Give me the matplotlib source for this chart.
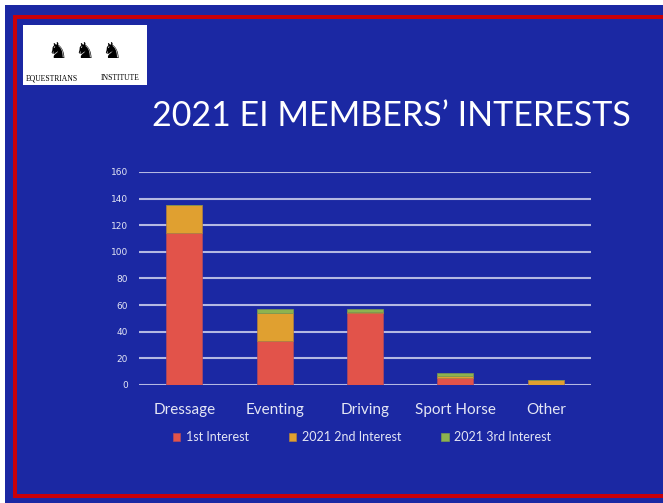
import matplotlib
matplotlib.use("Agg")
import matplotlib.pyplot as plt
from matplotlib.patches import Rectangle
import numpy as np

categories = ["Dressage", "Eventing", "Driving", "Sport Horse", "Other"]
first_interest = [114, 33, 54, 5, 0]
second_interest = [21, 21, 1, 2, 4]
third_interest = [0, 3, 2, 2, 0]
series_names = ["1st Interest", "2021 2nd Interest", "2021 3rd Interest"]
yticks = [0, 20, 40, 60, 80, 100, 120, 140, 160]

BG = "#1b28a3"
RED = "#e2534a"
ORANGE = "#e0a030"
GREEN = "#8db34f"
TXT = "#e4e6f5"
GRID = "#b4b8e2"
FRAME = "#c8000a"

W, H = 663, 503
fig = plt.figure(figsize=(W / 100, H / 100), dpi=100)
fig.patch.set_facecolor("white")

def fx(px):
    return px / W

def fy(py):
    return 1 - py / H

def rect(x0, y0, x1, y1, color, z):
    fig.patches.append(Rectangle((fx(x0), fy(y1)), (x1 - x0) / W, (y1 - y0) / H,
                                 transform=fig.transFigure, facecolor=color,
                                 edgecolor="none", zorder=z))

# blue slide background
rect(5, 5, 663, 503, BG, -10)
# red frame (open on the right)
rect(13, 15, 663, 19, FRAME, -9)
rect(13, 494, 663, 498, FRAME, -9)
rect(13, 15, 17, 498, FRAME, -9)

# logo box
rect(23, 25, 147, 85, "white", -8)
fig.text(fx(52), fy(78), "EQUESTRIANS", fontsize=5.5, family="Liberation Serif",
         color="black", ha="center", va="center", zorder=3)
fig.text(fx(120), fy(78), "INSTITUTE", fontsize=5.5, family="Liberation Serif",
         color="black", ha="center", va="center", zorder=3)
fig.text(fx(85), fy(52), "\u265E \u265E \u265E", fontsize=16, family="DejaVu Sans",
         color="black", ha="center", va="center", zorder=3)

# title
fig.text(fx(391), fy(116), "2021 EI MEMBERS\u2019 INTERESTS", fontsize=24.5,
         family="Lato", color="white", ha="center", va="center")

ax = fig.add_axes([fx(139), fy(385), (591 - 139) / W, (385 - 172) / H])
ax.set_zorder(5)
ax.set_facecolor("none")
x = np.arange(len(categories))
bw = 0.4
b1 = np.array(first_interest)
b2 = np.array(second_interest)
b3 = np.array(third_interest)
ax.bar(x, b1, bw, color=RED, label=series_names[0], zorder=3, edgecolor="#b04a60", linewidth=0.5)
ax.bar(x, b2, bw, bottom=b1, color=ORANGE, label=series_names[1], zorder=3, edgecolor="#b08040", linewidth=0.5)
ax.bar(x, b3, bw, bottom=b1 + b2, color=GREEN, label=series_names[2], zorder=3, edgecolor="#7a9a50", linewidth=0.5)

ax.set_xlim(-0.5, len(categories) - 0.5)
ax.set_ylim(0, 160)
ax.set_yticks(yticks)
ax.set_yticklabels([str(t) for t in yticks])
ax.grid(axis="y", color=GRID, linewidth=1.5, zorder=0)
ax.set_axisbelow(True)
for s in ax.spines.values():
    s.set_visible(False)
ax.tick_params(axis="y", length=0, labelsize=6.5, labelcolor=TXT, pad=8)
ax.set_xticks(x)
ax.set_xticklabels(categories, family="Lato", fontsize=11)
ax.tick_params(axis="x", length=0, labelcolor=TXT, pad=13)

leg = fig.legend(loc="center", bbox_to_anchor=(fx(362), fy(437)), ncol=3, frameon=False,
                 handlelength=0.6, handleheight=0.6, handletextpad=0.45, columnspacing=3.2,
                 prop={"family": "Lato", "size": 9})
for t in leg.get_texts():
    t.set_color(TXT)

fig.savefig("out.png", dpi=100, facecolor=fig.get_facecolor())
